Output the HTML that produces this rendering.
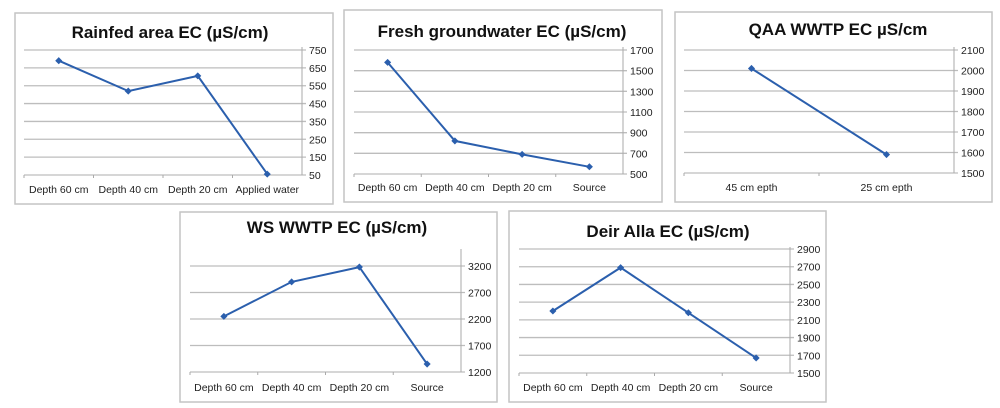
<!DOCTYPE html>
<html><head><meta charset="utf-8">
<style>
body{margin:0;background:#fff;width:1000px;height:408px;overflow:hidden;font-family:"Liberation Sans",Arial,sans-serif}
svg{position:absolute;left:0;top:0}
</style></head>
<body>
<svg id="s" width="1000" height="408"></svg>
<script>
const rainCats=["Depth 60 cm","Depth 40 cm","Depth 20 cm","Applied water"];
const rainVals=[690,520,605,55];
const rainTicks=[50,150,250,350,450,550,650,750];
const freshCats=["Depth 60 cm","Depth 40 cm","Depth 20 cm","Source"];
const freshVals=[1580,820,690,570];
const freshTicks=[500,700,900,1100,1300,1500,1700];
const qaaCats=["45 cm epth","25 cm epth"];
const qaaVals=[2010,1590];
const qaaTicks=[1500,1600,1700,1800,1900,2000,2100];
const wsCats=["Depth 60 cm","Depth 40 cm","Depth 20 cm","Source"];
const wsVals=[2250,2900,3180,1350];
const wsTicks=[1200,1700,2200,2700,3200];
const deirCats=["Depth 60 cm","Depth 40 cm","Depth 20 cm","Source"];
const deirVals=[2200,2690,2180,1670];
const deirTicks=[1500,1700,1900,2100,2300,2500,2700,2900];

const NS="http://www.w3.org/2000/svg";
const svg=document.getElementById('s');
function mk(tag,attrs,parent,text){const e=document.createElementNS(NS,tag);for(const k in attrs)e.setAttribute(k,attrs[k]);if(text!==undefined)e.textContent=text;parent.appendChild(e);return e;}

function chart(cfg,cats,vals,ticks){
  const g=mk('g',{},svg);
  
  
  const box=mk('rect',{x:cfg.bx,y:cfg.by,width:cfg.bw,height:cfg.bh,fill:'#fff',stroke:'#c4c4c4','stroke-width':1.5},g);
  
  
  const t=mk('text',{x:cfg.tx,y:cfg.ty,'text-anchor':'middle','font-size':17,'font-weight':'bold',fill:'#111'},g,cfg.title);
  
  
  const lo=cfg.ymin,hi=cfg.ymax;
  const y=v=>cfg.yBot-(v-lo)/(hi-lo)*(cfg.yBot-cfg.yTop);
  const bw=(cfg.x1-cfg.x0)/cats.length;
  const x=i=>cfg.x0+bw*(i+0.5);
  ticks.forEach(v=>{
    const yy=y(v);
    const ln=mk('line',{x1:cfg.x0,x2:cfg.x1+4,y1:yy,y2:yy,stroke:'#bdbdbd','stroke-width':1.3},g);
    
    
    const lb=mk('text',{x:cfg.x1+7,y:yy+4,'font-size':10.5,fill:'#222'},g,String(v));
    
    
  });
  const ax=mk('line',{x1:cfg.x1,x2:cfg.x1,y1:cfg.axTop,y2:cfg.yBot,stroke:'#aaa','stroke-width':1},g);
  
  
  cats.forEach((c,i)=>{
    const tk=mk('line',{x1:cfg.x0+bw*i,x2:cfg.x0+bw*i,y1:cfg.yBot,y2:cfg.yBot+3,stroke:'#aaa'},g);
    
    
    const lb=mk('text',{x:x(i),y:cfg.catY,'text-anchor':'middle','font-size':10.5,fill:'#222'},g,c);
    
    
  });
  const pts=vals.map((v,i)=>x(i).toFixed(1)+','+y(v).toFixed(1)).join(' ');
  const pl=mk('polyline',{points:pts,fill:'none',stroke:'#2b5fad','stroke-width':2},g);
  
  
  vals.forEach((v,i)=>{
    const m=mk('rect',{x:x(i)-2.5,y:y(v)-2.5,width:5,height:5,fill:'#2b5fad',transform:`rotate(45 ${x(i)} ${y(v)})`},g);
    
    
  });
}
chart({name:'rainfed-chart',bx:15,by:13,bw:318,bh:191,tx:170,ty:38,title:'Rainfed area EC (µS/cm)',x0:24,x1:302,yTop:50,yBot:175,axTop:47,ymin:50,ymax:750,catY:193},rainCats,rainVals,rainTicks);
chart({name:'fresh-groundwater-chart',bx:344,by:10,bw:318,bh:192,tx:502,ty:37,title:'Fresh groundwater EC (µS/cm)',x0:354,x1:623,yTop:50,yBot:174,axTop:47,ymin:500,ymax:1700,catY:191},freshCats,freshVals,freshTicks);
chart({name:'qaa-wwtp-chart',bx:675,by:12,bw:317,bh:190,tx:838,ty:35,title:'QAA WWTP EC µS/cm',x0:684,x1:954,yTop:50,yBot:173,axTop:47,ymin:1500,ymax:2100,catY:191},qaaCats,qaaVals,qaaTicks);
chart({name:'ws-wwtp-chart',bx:180,by:212,bw:317,bh:190,tx:337,ty:233,title:'WS WWTP EC (µS/cm)',x0:190,x1:461,yTop:266,yBot:372,axTop:249,ymin:1200,ymax:3200,catY:391},wsCats,wsVals,wsTicks);
chart({name:'deir-alla-chart',bx:509,by:211,bw:317,bh:191,tx:668,ty:237,title:'Deir Alla EC (µS/cm)',x0:519,x1:790,yTop:249,yBot:373,axTop:247,ymin:1500,ymax:2900,catY:391},deirCats,deirVals,deirTicks);
</script>
</body></html>
